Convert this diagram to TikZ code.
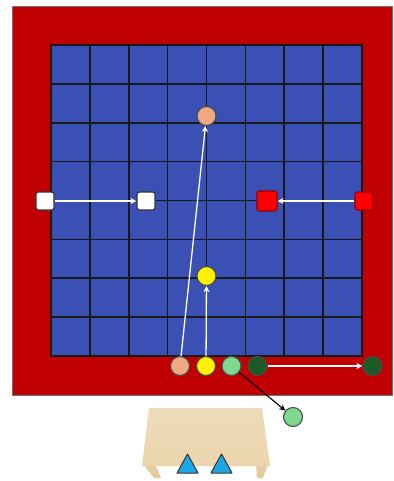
\documentclass[tikz,border=0pt]{standalone}
\usetikzlibrary{arrows.meta}
\definecolor{boardred}{HTML}{C00000}
\definecolor{gridblue}{HTML}{3A50B4}
\definecolor{peach}{HTML}{F0A882}
\definecolor{lgreen}{HTML}{7ED98E}
\definecolor{dgreen}{HTML}{1D5A25}
\definecolor{pureRed}{HTML}{FF0000}
\definecolor{wood}{HTML}{EBD5AE}
\definecolor{woodleg}{HTML}{E6CBA0}
\definecolor{tri}{HTML}{1BA6E6}
\tikzset{
  piece/.style={circle, draw=black!70, line width=1.1pt, minimum size=19pt, inner sep=0pt},
  block/.style={draw=black!80, line width=1.1pt, rounded corners=2.5pt, minimum size=18pt, inner sep=0pt},
  warrow/.style={draw=white, line width=1.3pt, -{Stealth[length=6pt,width=6pt]}},
  barrow/.style={draw=black, line width=1.1pt, -{Stealth[length=6pt,width=6pt]}},
}
\begin{document}
\begin{tikzpicture}[x=1pt,y=-1pt]
\useasboundingbox (0,0) rectangle (393,481);
\fill[white] (0,0) rectangle (393,481);
% board
\filldraw[fill=boardred, draw=black!55, line width=0.6pt] (12,6) rectangle (392,395);
\fill[gridblue] (51,45) rectangle (362,356);
\foreach \i in {0,...,8} {
  \draw[black!90, line width=1.6pt] ({51+\i*38.875},45) -- ({51+\i*38.875},356);
  \draw[black!90, line width=1.6pt] (51,{45+\i*38.875}) -- (362,{45+\i*38.875});
}
\draw[black!90, line width=1.6pt] (51,45) rectangle (362,356);
% table
\fill[woodleg] (143,464) -- (155,464) -- (161,478) -- (154,478) -- cycle;
\fill[woodleg] (256,464) -- (268,464) -- (263,478) -- (257,478) -- cycle;
\shade[top color=wood!85!white, bottom color=wood] (149,408) -- (262,408) -- (270,466) -- (142,466) -- cycle;
\filldraw[fill=tri, draw=black!80, line width=1pt, line join=round] (177,473) -- (187.5,454) -- (198,473) -- cycle;
\filldraw[fill=tri, draw=black!80, line width=1pt, line join=round] (211,473) -- (221.5,454) -- (232,473) -- cycle;
% pieces
\node[block, fill=white] (w1) at (45,201) {};
\node[block, fill=white] (w2) at (146,201) {};
\node[block, fill=pureRed, draw=pureRed!60!black, minimum size=20pt] (r2) at (267,201) {};
\node[block, fill=pureRed, draw=pureRed!60!black] (r1) at (364,201) {};
\node[piece, fill=peach] (p2) at (206.5,116) {};
\node[piece, fill=yellow] (y2) at (206.5,276) {};
\node[piece, fill=peach] (p1) at (180,366) {};
\node[piece, fill=yellow] (y1) at (206,366) {};
\node[piece, fill=lgreen] (g1) at (231.5,366) {};
\node[piece, fill=dgreen] (d1) at (257.5,366) {};
\node[piece, fill=dgreen] (d2) at (372.5,366) {};
\node[piece, fill=lgreen] (g2) at (293,417) {};
% arrows
\draw[warrow] (w1) -- (w2);
\draw[warrow] (r1) -- (r2);
\draw[warrow] (p1) -- (p2);
\draw[warrow] (y1) -- (y2);
\draw[warrow] (d1) -- (d2);
\draw[barrow] (g1.center) -- (g2);
\node[piece, fill=lgreen] at (g1) {};
\end{tikzpicture}
\end{document}
